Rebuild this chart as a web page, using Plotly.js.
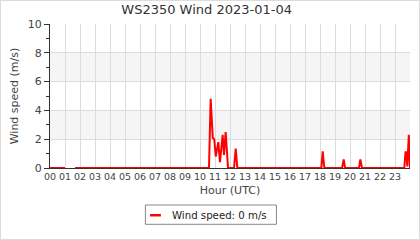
<!DOCTYPE html>
<html><head><meta charset="utf-8">
<script src="https://cdn.plot.ly/plotly-3.0.1.min.js"></script>
<style>
html,body{margin:0;padding:0;background:#fff;}
#c{width:418px;height:238px;border:1px solid #dcdcdc;}
</style></head><body>
<div id="c"></div>
<script>
// Hour of day (UTC) and wind speed (m/s)
var hours = [0, 0.5, 1.0, 1.01, 1.67, 5, 10, 10.6, 10.71, 10.85, 10.95, 11.05, 11.22, 11.33, 11.51, 11.6, 11.71, 11.87, 12.27, 12.38, 12.49, 18.09, 18.18, 18.29, 19.47, 19.58, 19.67, 20.6, 20.69, 20.8, 23.62, 23.7, 23.76, 23.82, 23.92, 23.98, 24];
var speeds = [0, 0, 0, null, 0, 0, 0, 0, 4.8, 2.1, 2.0, 0.8, 1.8, 0.4, 2.3, 0.9, 2.5, 0, 0, 1.35, 0, 0, 1.15, 0, 0, 0.6, 0, 0, 0.6, 0, 0, 1.1, 1.1, 0.1, 2.3, 1.0, 0];
var hourTicks = [0,1,2,3,4,5,6,7,8,9,10,11,12,13,14,15,16,17,18,19,20,21,22,23];
var hourLabels = hourTicks.map(function(h){return (h<10?'0':'')+h;});
var speedTicks = [0,2,4,6,8,10];
var minorSpeedTicks = [1,3,5,7,9];
var bands = [[2,4],[6,8]];
var seriesName = 'Wind speed: 0 m/s';

var shapes = bands.map(function(b){
  return {type:'rect', xref:'paper', yref:'y', x0:0, x1:1, y0:b[0], y1:b[1],
          fillcolor:'#f5f5f5', line:{width:0}, layer:'below'};
});
// custom legend box and sample line
shapes.push({type:'rect', xref:'paper', yref:'paper', x0:0.265, x1:0.629, y0:-0.257, y1:-0.391,
             fillcolor:'#fff', line:{color:'#888', width:1}});
shapes.push({type:'line', xref:'paper', yref:'paper', x0:0.278, x1:0.308, y0:-0.328, y1:-0.328,
             line:{color:'#ff0000', width:2.5}});

Plotly.newPlot('c', [{
  x: hours, y: speeds, type:'scatter', mode:'lines', name: seriesName,
  line:{color:'#ff0000', width:2}, connectgaps:false, showlegend:false
}], {
  width:418, height:238,
  margin:{l:49, r:9, t:23, b:71, autoexpand:false},
  paper_bgcolor:'#fff', plot_bgcolor:'rgba(0,0,0,0)',
  font:{family:'DejaVu Sans', color:'#444', size:10},
  title:{text:'WS2350 Wind 2023-01-04', x:0.492, xanchor:'center', y:0.985, yanchor:'top',
         font:{family:'DejaVu Sans', size:13, color:'#333'}},
  xaxis:{range:[0,24], tickvals:hourTicks, ticktext:hourLabels, showgrid:true, gridcolor:'#dcdcdc',
         showline:true, linecolor:'#333', linewidth:1, ticks:'', zeroline:false,
         tickfont:{size:9.5, color:'#444'}, ticklen:0,
         title:{text:'Hour (UTC)', font:{size:11, color:'#444'}, standoff:4}, fixedrange:true},
  yaxis:{range:[0,10], tickvals:speedTicks, showgrid:true, gridcolor:'#dcdcdc',
         showline:true, linecolor:'#333', linewidth:1, ticks:'outside', ticklen:5, tickcolor:'#333',
         zeroline:false, tickfont:{size:11, color:'#444'},
         minor:{tickvals:minorSpeedTicks, ticks:'outside', ticklen:3, tickcolor:'#333', showgrid:false},
         title:{text:'Wind speed (m/s)', font:{size:11, color:'#444'}, standoff:6}, fixedrange:true},
  shapes: shapes,
  annotations:[{xref:'paper', yref:'paper', x:0.333, y:-0.328, xanchor:'left', yanchor:'middle',
                text: seriesName, showarrow:false, font:{size:10.2, color:'#222'}}],
  showlegend:false
}, {displayModeBar:false, staticPlot:true});
</script>
</body></html>
